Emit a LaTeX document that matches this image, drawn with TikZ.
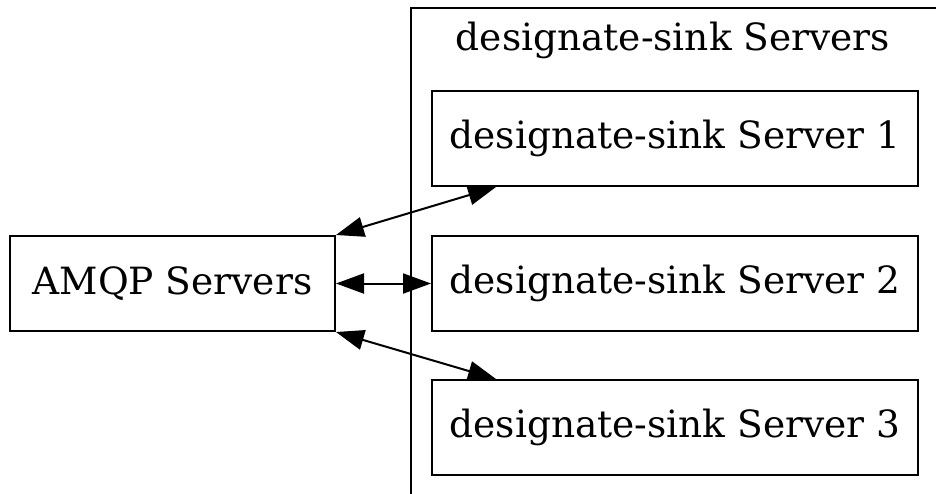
\documentclass[tikz,border=0pt]{standalone}
\usepackage{fontspec}
\setmainfont{DejaVu Serif}
\usetikzlibrary{arrows.meta}

\begin{document}
\begin{tikzpicture}[
x=1pt, y=-1pt,
boxnode/.style={rectangle, draw=black, line width=2pt, minimum height=95pt, inner sep=0pt, font=\fontsize{37.5}{45}\selectfont},
link/.style={line width=2pt, {Triangle[length=28pt,width=20pt]}-{Triangle[length=28pt,width=20pt]}},
]
\useasboundingbox (0,0) rectangle (936,493);

%Cluster
\draw[line width=2pt] (411,500) -- (411,8) -- (945,8);
\node[font=\fontsize{37.5}{45}\selectfont] (title) at (673,40) {designate-sink Servers};

%Nodes
\node[boxnode, minimum width=325pt] (amqp) at (172.5,283.5) {AMQP Servers};
\node[boxnode, minimum width=486pt] (sink1) at (675,138.5) {designate-sink Server 1};
\node[boxnode, minimum width=486pt] (sink2) at (675,283.5) {designate-sink Server 2};
\node[boxnode, minimum width=486pt] (sink3) at (675,427.5) {designate-sink Server 3};

%Lines
\draw[link] (amqp.north east) -- ([xshift=65pt]sink1.south west);
\draw[link] (amqp.east) -- (sink2.west);
\draw[link] (amqp.south east) -- ([xshift=65pt]sink3.north west);
\end{tikzpicture}
\end{document}
